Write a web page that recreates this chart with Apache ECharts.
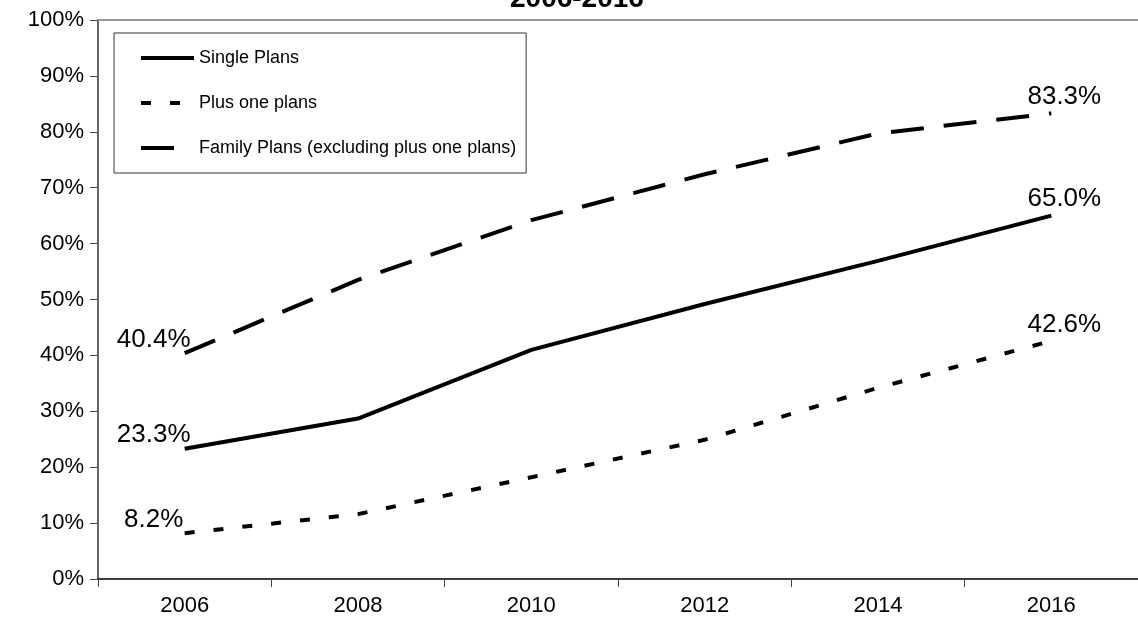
<!DOCTYPE html>
<html>
<head>
<meta charset="utf-8">
<script src="https://cdn.jsdelivr.net/npm/echarts@6/dist/echarts.min.js"></script>
<style>
  html, body { margin: 0; padding: 0; background: #ffffff; }
  #chart { width: 1138px; height: 632px; }
</style>
</head>
<body>
<div id="chart"></div>
<script>
// Share of plans, 2006-2016
const years = ['2006', '2008', '2010', '2012', '2014', '2016'];
const singlePlans = [23.3, 28.7, 41.0, 49.2, 56.9, 65.0];
const plusOnePlans = [8.2, 11.6, 18.2, 24.9, 34.2, 42.6];
const familyPlans = [40.4, 53.5, 64.2, 72.4, 79.7, 83.3];
const yTicks = [0, 10, 20, 30, 40, 50, 60, 70, 80, 90, 100];

const FONT = '"Liberation Sans", Arial, sans-serif';

// Only the first and last points carry a value label
function withEndLabels(values) {
  const last = values.length - 1;
  return values.map(function (v, i) {
    if (i === 0) {
      return { value: v, label: { show: true, position: 'top', align: 'center', distance: 0, offset: [-31, 0] } };
    }
    if (i === last) {
      return { value: v, label: { show: true, position: 'top', align: 'center', distance: 3, offset: [13, 0] } };
    }
    return v;
  });
}

function lineSeries(name, values, dash, extra) {
  return Object.assign({
    name: name,
    type: 'line',
    data: withEndLabels(values),
    symbol: 'circle',
    symbolSize: 1,
    showSymbol: true,
    smooth: false,
    lineStyle: { color: '#000', width: 4, type: dash, cap: 'butt' },
    itemStyle: { color: 'rgba(0,0,0,0)', borderWidth: 0 },
    label: {
      show: false,
      formatter: function (p) { return p.value.toFixed(1) + '%'; },
      color: '#000',
      fontFamily: FONT,
      fontSize: 26
    },
    emphasis: { disabled: true },
    z: 3
  }, extra || {});
}

const chart = echarts.init(document.getElementById('chart'), null, { renderer: 'canvas' });

chart.setOption({
  animation: false,
  backgroundColor: '#ffffff',
  title: {
    text: '2006-2016',
    left: 510,
    top: -15,
    padding: 0,
    textStyle: { fontFamily: FONT, fontSize: 28, fontWeight: 'bold', color: '#000' }
  },
  grid: { left: 98, top: 20, width: 1044, bottom: 53, containLabel: false },
  legend: {
    orient: 'vertical',
    left: 114,
    top: 33,
    padding: [16, 10, 16, 25],
    itemWidth: 53,
    itemHeight: 14,
    itemGap: 27,
    borderColor: '#333',
    borderWidth: 1,
    backgroundColor: '#fff',
    lineStyle: { width: 4 },
    itemStyle: { color: 'rgba(0,0,0,0)', borderWidth: 0 },
    textStyle: { fontFamily: FONT, fontSize: 18, color: '#000' },
    data: ['Single Plans', 'Plus one plans', 'Family Plans (excluding plus one plans)']
  },
  xAxis: {
    type: 'category',
    data: years,
    boundaryGap: true,
    axisLine: { lineStyle: { color: '#000', width: 1.5 } },
    axisTick: { show: true, alignWithLabel: false, length: 8, lineStyle: { color: '#444' } },
    axisLabel: { fontFamily: FONT, fontSize: 22, color: '#000', margin: 16 },
    splitLine: { show: false }
  },
  yAxis: {
    type: 'value',
    min: 0,
    max: 100,
    interval: 10,
    axisLine: { show: true, lineStyle: { color: '#333', width: 1.5 } },
    axisTick: { show: true, inside: false, length: 8, lineStyle: { color: '#444' } },
    axisLabel: {
      fontFamily: FONT, fontSize: 22, color: '#000', margin: 14,
      formatter: function (v) { return yTicks.indexOf(v) >= 0 ? v + '%' : ''; }
    },
    splitLine: { show: false }
  },
  series: [
    lineSeries('Single Plans', singlePlans, 'solid', {
      markLine: {
        silent: true,
        symbol: 'none',
        label: { show: false },
        lineStyle: { color: '#999', width: 2, type: 'solid' },
        data: [{ yAxis: 100 }]
      }
    }),
    lineSeries('Plus one plans', plusOnePlans, [10, 19]),
    lineSeries('Family Plans (excluding plus one plans)', familyPlans, [33, 20])
  ]
});
</script>
</body>
</html>
